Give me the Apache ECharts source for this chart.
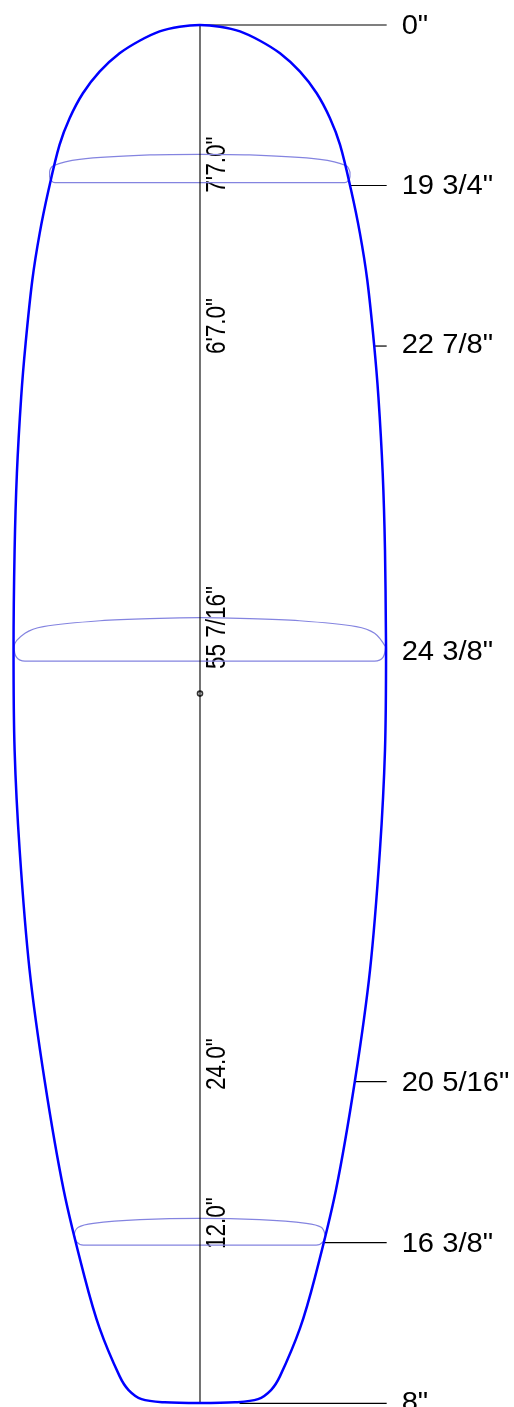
<!DOCTYPE html>
<html>
<head>
<meta charset="utf-8">
<style>html,body{margin:0;padding:0;background:#fff}#c{width:514px;height:1407px}</style>
<script src="https://cdn.jsdelivr.net/npm/echarts@6/dist/echarts.min.js"></script>
</head>
<body>
<div id="c"></div>
<script>
// Board planform in inches: [half width, distance from nose]
const outlineHalf = [[0,0],[1.32,0.11],[2.63,0.42],[3.94,1.04],[5.25,1.87],[6.56,3.08],[7.65,4.51],[8.52,6.16],[9.18,7.92],[9.90,10.90],[10.48,13.76],[10.96,16.84],[11.40,21.02],[11.69,24.57],[11.97,29.60],[12.12,34.67],[12.19,41.27],[12.12,47.88],[11.79,54.48],[11.14,62.41],[10.16,69.67],[8.91,76.93],[7.54,82.68],[6.56,86.05],[5.25,89.22],[4.66,90.14],[3.81,90.74],[2.30,90.95],[0,91.0]];
const bandNose = [[0,8.54],[3.26,8.58],[7.87,8.87],[9.59,9.29],[9.83,9.71],[9.83,10.02],[9.48,10.41],[0,10.41]];
const bandMid = [[0,39.14],[2.63,39.18],[6.53,39.34],[10.24,39.73],[11.44,40.17],[12.15,41.05],[11.99,41.76],[11.44,42.00],[0,42.00]];
const bandTail = [[0,78.80],[3.91,78.89],[6.97,79.13],[7.95,79.39],[8.21,79.90],[8.06,80.35],[7.62,80.57],[0,80.57]];
// Width call-outs
const tickLabels = ['0"','19 3/4"','22 7/8"','24 3/8"','20 5/16"','16 3/8"','8"'];
const tickStations = [0,10.60,21.20,41.34,69.78,80.40,91.02];
const tickStarts = [0,9.88,11.47,null,10.15,8.17,2.6];
const labelStations = [0.07,10.66,21.20,41.45,69.87,80.50,91.0];
// Length call-outs along the stringer
const lengthLabels = ['7\'7.0"','6\'7.0"','55 7/16"','24.0"','12.0"'];
const lengthStations = [11.07,21.73,42.53,70.33,80.83];
const wideStation = 44.15;
const boardLength = 91.0;
const tickEnd = 12.23, labelHalf = 13.21, lengthHalf = 1.17, stringer = 0.013;

// Mirror a half outline and start the loop at its widest point, so the nose gets a smooth join
const closed = a => {
  const loop = a.concat(a.slice(1,-1).reverse().map(p => [-p[0],p[1]]));
  let k = 0; loop.forEach((p,i) => { if (p[0] > loop[k][0]) k = i; });
  const r = loop.slice(k).concat(loop.slice(0,k));
  return r.concat([r[0]]);
};
const lineSeries = (data,color,width,smooth) => ({type:'line',data,smooth:smooth||false,symbol:'none',silent:true,clip:false,animation:false,lineStyle:{color,width}});

const series = [];
series.push(lineSeries(closed(bandNose),'#8484e0',1.2,0.33));
series.push(lineSeries(closed(bandMid),'#8484e0',1.2,0.33));
series.push(lineSeries(closed(bandTail),'#8484e0',1.2,0.33));
series.push(lineSeries([[stringer,0],[stringer,boardLength]],'#000',1.1));
tickStations.forEach((s,i)=>{ if(tickStarts[i]!==null) series.push(lineSeries([[tickStarts[i],s],[tickEnd,s]],'#000',1.2)); });
series.push(lineSeries(closed(outlineHalf),'#0000ff',2.5,0.33));
series.push({type:'scatter',data:[[stringer,wideStation]],symbolSize:5,silent:true,animation:false,clip:false,itemStyle:{color:'#fff',borderColor:'#000',borderWidth:1.6}});
const FONT = '"Liberation Sans", Arial, sans-serif';
series.push({type:'custom',clip:false,silent:true,animation:false,
  data:tickLabels.map((t,i)=>[labelHalf,labelStations[i],t]),
  renderItem:(p,api)=>{const c=api.coord([api.value(0),api.value(1)]);
    return {type:'text',x:c[0],y:c[1],scaleX:1.08,scaleY:1,style:{text:tickLabels[p.dataIndex],fontFamily:FONT,fontSize:27,fill:'#000',align:'left',verticalAlign:'middle'}};}});
series.push({type:'custom',clip:false,silent:true,animation:false,
  data:lengthLabels.map((t,i)=>[lengthHalf,lengthStations[i],t]),
  renderItem:(p,api)=>{const c=api.coord([api.value(0),api.value(1)]);
    return {type:'text',x:c[0],y:c[1],rotation:Math.PI/2,scaleX:1,scaleY:1.24,style:{text:lengthLabels[p.dataIndex],fontFamily:FONT,fontSize:22.5,fill:'#000',align:'left',verticalAlign:'middle'}};}});

const chart = echarts.init(document.getElementById('c'),null,{renderer:'canvas'});
chart.setOption({
  animation:false,backgroundColor:'#fff',
  grid:{left:0,right:0,top:0,bottom:0},
  xAxis:{type:'value',min:-13.076,max:20.563,show:false},
  yAxis:{type:'value',inverse:true,min:-1.651,max:91.26,show:false},
  series
});
</script>
</body>
</html>
